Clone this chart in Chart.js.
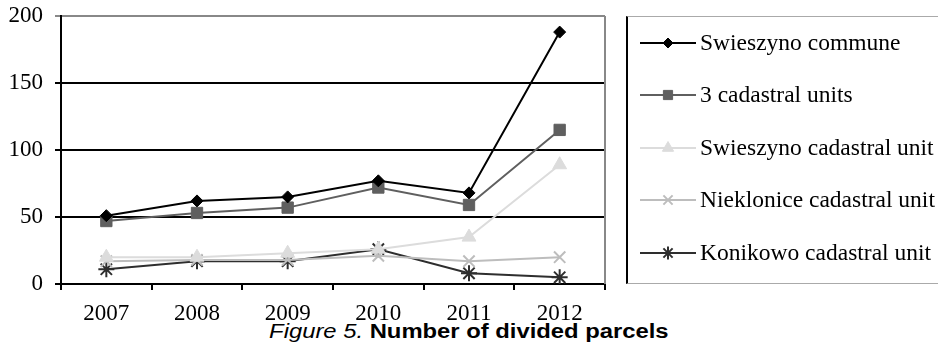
<!DOCTYPE html>
<html lang="en">
<head>
  <meta charset="UTF-8" />
  <title>Number of divided parcels</title>
  <script src="https://cdn.jsdelivr.net/npm/chart.js"></script>
  <style>
    body { margin: 0; background: #fff; width: 938px; height: 343px; overflow: hidden; position: relative; }
    #chartBox { position: absolute; left: 0; top: 0; width: 625px; height: 320px; }
    #legend {
      position: absolute; left: 626px; top: 16px; width: 330px; height: 266px;
      border-left: 2px solid #000; border-top: 1px solid #aaa; border-bottom: 1px solid #aaa;
    }
    #legend canvas { position: absolute; left: 12px; }
    #caption {
      position: absolute; left: 0; width: 938px; top: 321px; line-height: 20px; text-align: center;
      font-family: "Liberation Sans", sans-serif; font-size: 20px; color: #000;
    }
    #caption span { display: inline-block; transform: scaleX(1.19); }
  </style>
</head>
<body>
  <div id="chartBox"><canvas id="parcelsChart"></canvas></div>
  <div id="legend"></div>
  <div id="caption"><span><i>Figure 5.</i> <b>Number of divided parcels</b></span></div>

  <script>
    // Data
    const years = ['2007', '2008', '2009', '2010', '2011', '2012'];
    const swieszynoCommune = [51, 62, 65, 77, 68, 188];
    const threeUnits = [47, 53, 57, 72, 59, 115];
    const swieszynoUnit = [20, 20, 23, 26, 35, 89];
    const nieklonice = [17, 18, 18, 21, 17, 20];
    const konikowo = [11, 17, 17, 26, 8, 5];
    const seriesNames = ['Swieszyno commune', '3 cadastral units', 'Swieszyno cadastral unit', 'Nieklonice cadastral unit', 'Konikowo cadastral unit'];
    const yTicks = [0, 50, 100, 150, 200];

    const styles = [
      { color: '#000000', point: 'rectRot', r: 6, lr: 5 },
      { color: '#5f5f5f', point: 'rect', r: 8, lr: 6.5 },
      { color: '#dcdcdc', point: 'triangle', r: 8, lr: 6.5 },
      { color: '#bdbdbd', point: 'crossRot', r: 8, lr: 6.5 },
      { color: '#2e2e2e', point: 'star', r: 8, lr: 6.5 }
    ];
    const values = [swieszynoCommune, threeUnits, swieszynoUnit, nieklonice, konikowo];

    const datasets = values.map((v, i) => ({
      label: seriesNames[i],
      data: v,
      borderColor: styles[i].color,
      backgroundColor: styles[i].color,
      borderWidth: 2,
      pointStyle: styles[i].point,
      pointRadius: styles[i].r,
      pointBorderWidth: styles[i].point === 'crossRot' || styles[i].point === 'star' ? 2 : 1,
      tension: 0
    }));

    // right border of the plot area
    const frame = {
      id: 'frame',
      afterDraw(chart) {
        const a = chart.chartArea, ctx = chart.ctx;
        ctx.save();
        ctx.strokeStyle = '#888';
        ctx.lineWidth = 2;
        ctx.beginPath();
        ctx.moveTo(a.right, a.top);
        ctx.lineTo(a.right, a.bottom);
        ctx.stroke();
        ctx.restore();
      }
    };

    const serifFamily = "'Liberation Serif', 'Times New Roman', serif";
    const serif = { family: serifFamily, size: 23 };

    new Chart(document.getElementById('parcelsChart'), {
      type: 'line',
      data: { labels: years, datasets: datasets },
      plugins: [frame],
      options: {
        responsive: true,
        maintainAspectRatio: false,
        animation: false,
        layout: { padding: { top: 16, right: 20, left: 0, bottom: 0 } },
        plugins: { legend: { display: false }, tooltip: { enabled: false } },
        scales: {
          x: {
            offset: true,
            grid: { offset: true, drawOnChartArea: false, color: '#000', lineWidth: 2, tickLength: 6 },
            border: { color: '#000', width: 2 },
            ticks: { font: serif, color: '#000', padding: 10, maxRotation: 0 },
            afterFit(scale) { scale.height = 36; }
          },
          y: {
            min: 0,
            max: 200,
            afterBuildTicks(scale) { scale.ticks = yTicks.map(v => ({ value: v })); },
            grid: {
              color: ctx => (ctx.tick && ctx.tick.value === 200 ? '#888' : '#000'),
              lineWidth: 2,
              tickLength: 6
            },
            border: { color: '#000', width: 2 },
            ticks: { font: serif, color: '#000', padding: 12 },
            afterFit(scale) {
              scale.width = 61;
              scale.paddingTop = 0;
              scale.paddingBottom = 0;
            }
          }
        }
      }
    });

    // Legend: line + marker sample and label, one small canvas per row
    const legend = document.getElementById('legend');
    const rowY = [11, 63, 116, 168, 221];
    seriesNames.forEach((name, i) => {
      const c = document.createElement('canvas');
      c.width = 310; c.height = 30;
      c.style.top = rowY[i] + 'px';
      const ctx = c.getContext('2d');
      ctx.strokeStyle = styles[i].color;
      ctx.lineWidth = 2;
      ctx.beginPath(); ctx.moveTo(0, 15); ctx.lineTo(56, 15); ctx.stroke();
      ctx.fillStyle = styles[i].color;
      ctx.lineWidth = datasets[i].pointBorderWidth;
      Chart.helpers.drawPoint(ctx, { pointStyle: styles[i].point, radius: styles[i].lr, rotation: 0, borderWidth: datasets[i].pointBorderWidth }, 28, 15);
      ctx.fillStyle = '#000';
      ctx.font = '23.5px ' + serifFamily;
      ctx.textBaseline = 'middle';
      ctx.fillText(name, 60, 16);
      legend.appendChild(c);
    });
  </script>
</body>
</html>
